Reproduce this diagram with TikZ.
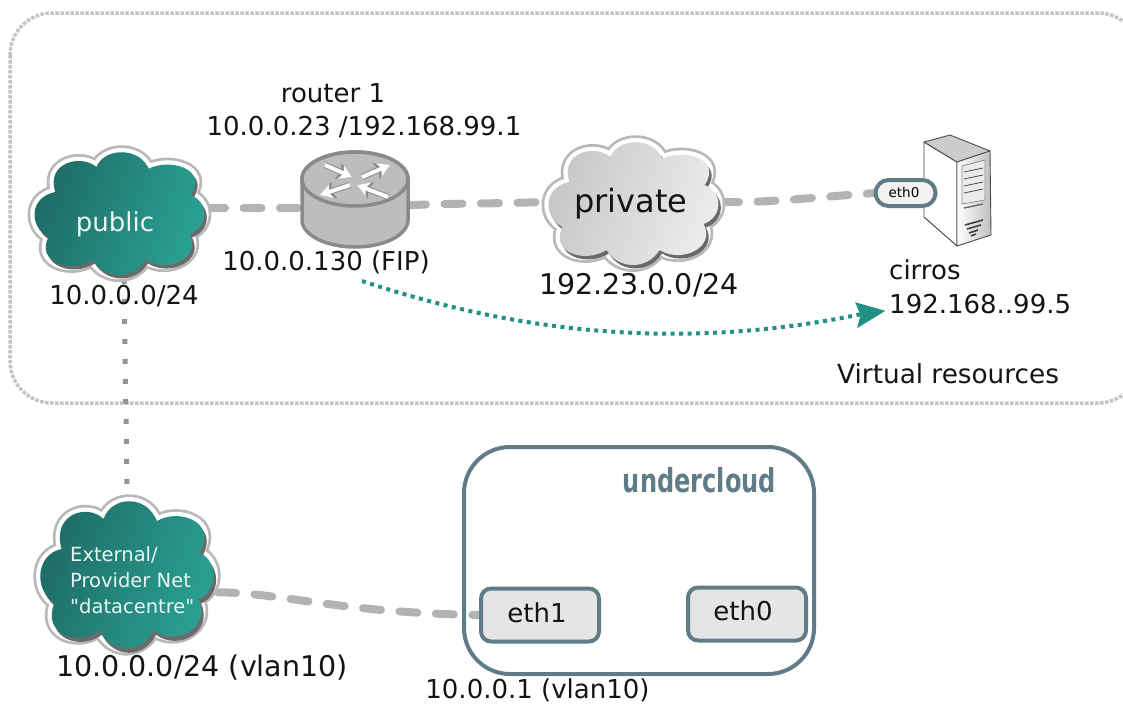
\documentclass[tikz,border=0pt]{standalone}
\usepackage{fontspec}
\usepackage{graphicx}
\setmainfont{DejaVu Sans}
\newfontfamily\plainquotes{DejaVu Sans}
\usetikzlibrary{arrows.meta,backgrounds,calc}
\definecolor{slate}{HTML}{607D87}
\definecolor{teal}{HTML}{219085}
\definecolor{linkgray}{HTML}{B3B3B3}
\definecolor{framegray}{HTML}{C4C4C4}
\definecolor{halogray}{HTML}{B8B8B8}
\definecolor{cloudshadow}{HTML}{6A6A6A}
\definecolor{tealdark}{HTML}{1E6B65}
\definecolor{teallight}{HTML}{2AA294}
\definecolor{graydark}{HTML}{C6C6C6}
\definecolor{graylight}{HTML}{EDEDED}
\definecolor{routerface}{HTML}{BDBDBD}
\definecolor{routeredge}{HTML}{8A8A8A}
\newcommand{\fs}[1]{\fontsize{#1}{#1}\selectfont}
\newcommand{\cloudoutline}{(-72,25) .. controls (-92,15) and (-92,-15) .. (-65,-20)
  .. controls (-75,-50) and (-38,-58) .. (-23,-45)
  .. controls (-15,-65) and (22,-65) .. (30,-43)
  .. controls (50,-54) and (92,-44) .. (73,-17)
  .. controls (92,-10) and (92,15) .. (72,22)
  .. controls (85,45) and (50,62) .. (27,48)
  .. controls (15,68) and (-15,68) .. (-27,48)
  .. controls (-50,62) and (-85,50) .. (-72,25) -- cycle}
% #1 position, #2 xscale, #3 yscale, #4 dark colour, #5 light colour
\newcommand{\drawcloud}[5]{%
  \begin{scope}[shift={(#1)},xscale=#2,yscale=#3]
    \draw[halogray,line width=14,line join=round] \cloudoutline;
    \draw[white,line width=8.5,line join=round] \cloudoutline;
    \fill[cloudshadow,shift={(2.5,3.5)}] \cloudoutline;
    \shade[left color=#4,right color=#5,shading angle=70] \cloudoutline;
  \end{scope}}
\newcommand{\routerarrow}[2]{%
  \draw[routeredge,line width=6,-{Stealth[length=15,width=17,inset=3]}] (#1) -- (#2);
  \draw[white,line width=4,-{Stealth[length=12,width=14,inset=3]}] (#1) -- (#2);}
\tikzset{
  x=1pt,y=-1pt,
  txt/.style={inner sep=0,font=\fs{26},text=black!92},
  bigtxt/.style={inner sep=0,font=\fs{28.5},text=black!92},
  anchorbox/.style={inner sep=0,outer sep=0},
  link/.style={linkgray,line width=8,line cap=round,dash pattern=on 18 off 18.5},
  portbox/.style={draw=slate,line width=4,fill=#1,rounded corners=10,inner sep=0,outer sep=0},
  dotlink/.style={black!42,line width=5,dash pattern=on 5 off 15},
  fiplink/.style={teal,line width=4,dash pattern=on 4 off 4.5},
}
\begin{document}
\begin{tikzpicture}
\useasboundingbox (0,0) rectangle (1123,704);
\clip (0,0) rectangle (1123,704);

% clouds
\drawcloud{119,212}{.98}{1}{tealdark}{teallight}
\drawcloud{633,202}{.98}{1}{graydark}{graylight}
\drawcloud{126.5,573}{1}{1.2}{tealdark}{teallight}
\node[anchorbox,minimum width=166,minimum height=142] (public) at (124,208) {};
\node[anchorbox,minimum width=176,minimum height=130] (private) at (633,202) {};
\node[anchorbox,minimum width=182,minimum height=168] (datacentre) at (127,573) {};

% router
\node[anchorbox,minimum width=106,minimum height=96] (router) at (355,208) {};
\draw[routeredge,line width=3.5,fill=routerface]
  (302,179) -- (302,220) arc[start angle=180,end angle=360,x radius=53,y radius=-27]
  -- (408,179) arc[start angle=0,end angle=180,x radius=53,y radius=-27] -- cycle;
\draw[routeredge,line width=3.5,fill=routerface] (355,179) ellipse[x radius=53,y radius=27];
\routerarrow{325,165}{352,177}
\routerarrow{362,177}{390,165}
\routerarrow{350,185}{320,195}
\routerarrow{388,197}{357,185}

% server
\fill[white] (924,142) -- (957,162) -- (957,246) -- (924,217) -- cycle;
\draw[black!75,line width=.9,line join=round] (924,142) -- (957,162) -- (957,246) -- (924,217) -- cycle;
\draw[black!70,line width=.9,fill=black!20,line join=round] (924,142) -- (950,135) -- (990,151) -- (957,162) -- cycle;
\shade[left color=white,right color=black!25,draw=black!70,line width=.9] (957,162) -- (990,151) -- (991,235) -- (957,246) -- cycle;
\draw[black!45,line width=.8,fill=black!8] (962,166) -- (985,160) -- (985,200) -- (962,204) -- cycle;
\foreach \yy in {172,179,186,193}{\draw[black!70,line width=.8] (964,\yy) -- (983,\yy-4);}
\draw[black!60,line width=1.4] (964,208) -- (983,204);
\draw[black!75,line width=1.6] (965,225) -- (983,220) (967,229) -- (981,225) (969,233) -- (978,230) (971,236) -- (976,234);

% undercloud
\node[draw=slate,line width=4,rounded corners=46,minimum width=350,minimum height=227,inner sep=0,outer sep=0] (undercloud) at (639,560.5) {};
\node[inner sep=0,text=slate,font=\fs{33}\bfseries] (undercloudlabel) at (699.5,480) {\scalebox{.73}[1]{undercloud}};
\node[portbox=black!10,minimum width=118,minimum height=53] (ueth1) at (540,615) {};
\node[txt] (ueth1label) at (537,613) {eth1};
\node[portbox=black!10,minimum width=118,minimum height=53] (ueth0) at (747,614) {};
\node[txt] (ueth0label) at (743,611) {eth0};

% eth0 on server
\node[draw=slate,line width=4,fill=black!5,rounded corners=13,minimum width=60,minimum height=26,inner sep=0,outer sep=0] (vmeth) at (905.5,193) {};
\node[inner sep=0,font=\fs{13.5}] (vmethlabel) at (904,192) {eth0};

% labels
\node[txt] (routername) at (333,93) {router 1};
\node[txt] (routerips) at (364,127) {10.0.0.23 /192.168.99.1};
\node[txt] (fip) at (326,262) {10.0.0.130 (FIP)};
\node[txt,text=white!92!teal] (publiclabel) at (115,224) {public};
\node[txt] (publicnet) at (124,296) {10.0.0.0/24};
\node[txt,font=\fs{32}] (privatelabel) at (631,204) {private};
\node[bigtxt] (privatenet) at (639,285) {192.23.0.0/24};
\node[txt,anchor=west] (cirros) at (889,270) {cirros};
\node[txt,anchor=west] (cirrosip) at (889,304) {192.168..99.5};
\node[txt,font=\fs{26.3},anchor=west] (virtual) at (837,374) {Virtual resources};
\node[inner sep=0,anchor=north west,align=left,text=white!90!teal,font=\plainquotes\fontsize{19.5}{26}\selectfont] (extlabel) at (70,546) {External/\\Provider Net\\"datacentre"};
\node[bigtxt] (extnet) at (202,668) {10.0.0.0/24 (vlan10)};
\node[txt] (undernet) at (537.5,690) {10.0.0.1 (vlan10)};

\coordinate (fipstart) at (362,281);
\coordinate (fipend) at (884,311);

% floating-IP arrow
\draw[fiplink] (fipstart) .. controls (480,320) and (650,358) .. (862,314);
\draw[teal,line width=1] (856,303) -- (fipend) -- (858,327) -- (861,315) -- cycle;
\fill[teal] (856,303) -- (fipend) -- (858,327) -- (861,315) -- cycle;

\begin{scope}[on background layer]
  \draw[framegray,line width=3.5,dash pattern=on 3.5 off 1.5,rounded corners=42] (10,13) rectangle (1140,403);
  \draw[link] (public.east) -- (router.west);
  \draw[link] (router.3) .. controls +(40,-2) and +(-60,2) .. (private.west);
  \draw[link] (private.east) .. controls +(50,1) and +(-60,4) .. (vmeth.west);
  \draw[link] (datacentre.-12) .. controls +(60,0) and +(-140,-2) .. (ueth1.west);
  \draw[dotlink] (public.south) -- (datacentre.north);
\end{scope}
\end{tikzpicture}
\end{document}
